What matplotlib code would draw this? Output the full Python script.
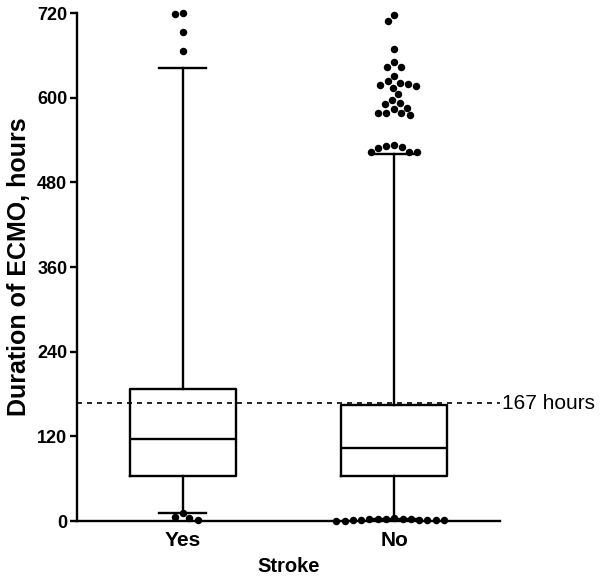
import numpy as np
import matplotlib
matplotlib.use("Agg")
import matplotlib.pyplot as plt

plt.rcParams['font.family'] = ['Liberation Sans', 'DejaVu Sans']

# ---- data ----
groups = ["Yes", "No"]
medians = [116, 103]
q1 = [64, 64]
q3 = [187, 165]
whisker_low = [12, 3]
whisker_high = [642, 520]
outliers_yes = [720, 718, 693, 666, 11, 6, 4, 1.5]
outliers_no = [717, 709, 669, 644, 644, 650, 630, 621, 618, 617, 614, 619, 623,
               605, 592, 591, 597, 584, 578, 575, 578, 578, 586,
               532, 528, 523, 523, 523, 530, 533,
               4, 3.5, 3, 2.5, 2.5, 2, 2, 1.5, 1.5, 1, 1, 0.5, 0.5, 3]
threshold = 167
threshold_label = "167 hours"
ylabel = "Duration of ECMO, hours"
xlabel = "Stroke"
yticks = [0, 120, 240, 360, 480, 600, 720]

fig = plt.figure(figsize=(6, 5.76), dpi=100)
ax = fig.add_axes([77/600, 55/576, 423/600, 508/576])
ax.set_xlim(0.5, 2.5)
ax.set_ylim(0, 720)

positions = [1, 2]
stats = []
for i, g in enumerate(groups):
    stats.append(dict(label=g, med=medians[i], q1=q1[i], q3=q3[i],
                      whislo=whisker_low[i], whishi=whisker_high[i], fliers=[]))
lw = 1.7
ax.bxp(stats, positions=positions, widths=0.5, capwidths=0.22, showfliers=False,
       boxprops=dict(color='black', linewidth=lw),
       medianprops=dict(color='black', linewidth=lw),
       whiskerprops=dict(color='black', linewidth=lw),
       capprops=dict(color='black', linewidth=lw))

# beeswarm layout in pixel space
ax_w_px = 423.0
ax_h_px = 508.0
xpu = ax_w_px / 2.0
ypu = ax_h_px / 720.0
diam = 8.3


def swarm(vals):
    vals = np.asarray(vals, float)
    order = np.argsort(-vals)
    placed = []
    offs = np.zeros(len(vals))
    for i in order:
        y = vals[i] * ypu
        cands = [0.0]
        for (px, py) in placed:
            dy = y - py
            if abs(dy) < diam:
                dx = np.sqrt(diam**2 - dy**2)
                cands += [px + dx, px - dx]
        cands = sorted(cands, key=lambda c: (abs(c), c))
        for c in cands:
            ok = all((c - px)**2 + (y - py)**2 >= diam**2 - 1e-6 for px, py in placed)
            if ok:
                break
        placed.append((c, y))
        offs[i] = c
    return offs / xpu


for pos, vals in zip(positions, [outliers_yes, outliers_no]):
    offs = swarm(vals)
    ax.scatter(pos + offs, vals, s=29, color='black', zorder=5, clip_on=False,
               linewidths=0)

ax.axhline(threshold, color='black', linestyle=(0, (3, 3)), linewidth=1.2,
           clip_on=False, zorder=1)
ax.text(2.51, threshold, threshold_label, ha='left', va='center', fontsize=15,
        clip_on=False)

for s in ['top', 'right']:
    ax.spines[s].set_visible(False)
for s in ['left', 'bottom']:
    ax.spines[s].set_linewidth(1.7)

ax.set_yticks(yticks)
ax.set_yticklabels([str(t) for t in yticks], fontsize=13, fontweight='bold')
ax.set_xticks(positions)
ax.set_xticklabels(groups, fontsize=15, fontweight='bold')
ax.tick_params(axis='y', length=5, width=1.7, pad=2)
ax.tick_params(axis='x', length=0, pad=7)
ax.set_ylabel(ylabel, fontsize=18, fontweight='bold', labelpad=4)
ax.set_xlabel(xlabel, fontsize=14.5, fontweight='bold', labelpad=5)

fig.savefig("out.png", dpi=100)
